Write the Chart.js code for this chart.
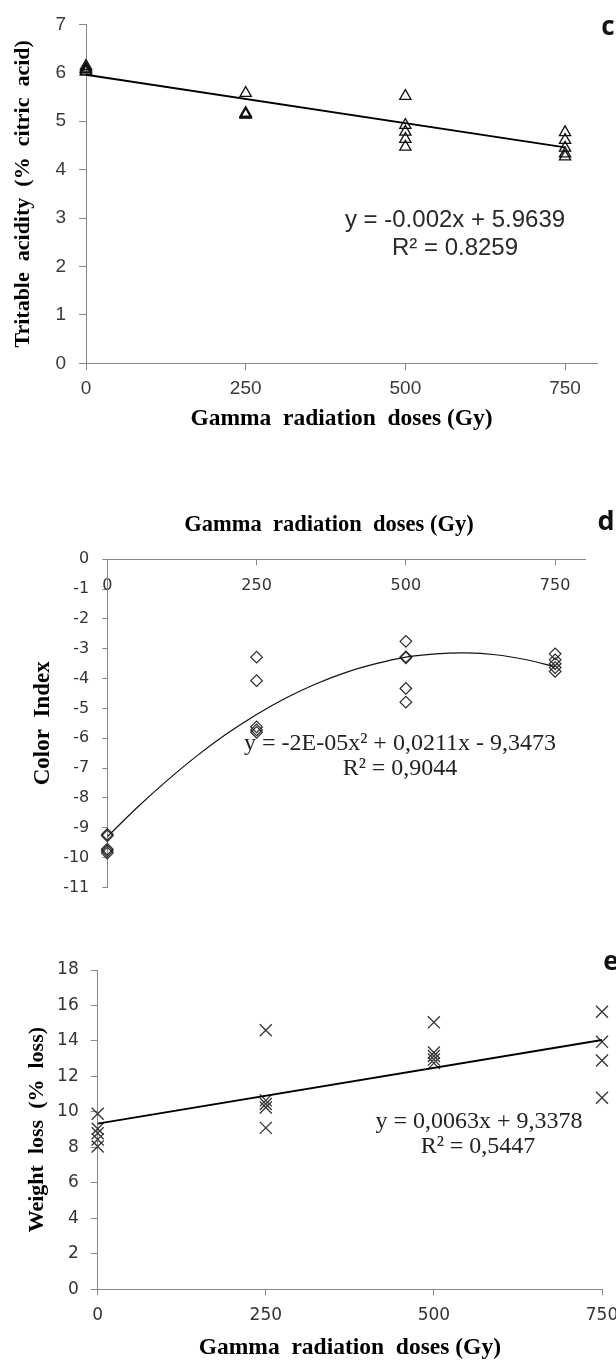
<!DOCTYPE html>
<html>
<head>
<meta charset="utf-8">
<script src="https://cdn.jsdelivr.net/npm/chart.js@4.4.1/dist/chart.umd.min.js"></script>
<style>
html,body{margin:0;padding:0;background:#fff;width:616px;height:1362px;overflow:hidden;position:relative}
canvas{position:absolute;left:0}
</style>
</head>
<body>
<canvas id="panelC" width="616" height="440" style="top:0px"></canvas>
<canvas id="panelD" width="616" height="430" style="top:480px"></canvas>
<canvas id="panelE" width="640" height="432" style="top:930px"></canvas>
<script>
// ---------- tick labels ----------
const doseTicks = [0, 250, 500, 750];
const acidityTicks = [0, 1, 2, 3, 4, 5, 6, 7];
const colorTicks = [0, -1, -2, -3, -4, -5, -6, -7, -8, -9, -10, -11];
const weightTicks = [0, 2, 4, 6, 8, 10, 12, 14, 16, 18];

// ---------- panel c : titratable acidity ----------
const acidityDose  = [0, 0, 0, 0, 0, 250, 250, 250, 250, 250, 500, 500, 500, 500, 500, 750, 750, 750, 750, 750];
const acidityValue = [6.14, 6.10, 6.07, 6.04, 6.02, 5.58, 5.17, 5.15, 5.14, 5.13, 5.52, 4.92, 4.78, 4.63, 4.47, 4.77, 4.61, 4.45, 4.33, 4.27];
const acidityTrendDose  = [0, 750];
const acidityTrendValue = [5.96, 4.46];

// ---------- panel d : color index ----------
const colorDose  = [0, 0, 0, 0, 0, 250, 250, 250, 250, 250, 500, 500, 500, 500, 500, 750, 750, 750, 750, 750];
const colorValue = [-9.22, -9.27, -9.72, -9.78, -9.85, -3.28, -4.07, -5.62, -5.72, -5.80, -2.75, -3.27, -3.30, -4.33, -4.79, -3.17, -3.37, -3.50, -3.63, -3.76];
const colorTrendDose  = [0, 50, 100, 150, 200, 250, 300, 350, 400, 450, 500, 550, 600, 650, 700, 750];
const colorTrendValue = [-9.30, -8.32, -7.42, -6.59, -5.85, -5.20, -4.64, -4.17, -3.79, -3.50, -3.28, -3.17, -3.14, -3.20, -3.36, -3.60];

// ---------- panel e : weight loss ----------
const weightDose  = [0, 0, 0, 0, 0, 250, 250, 250, 250, 250, 500, 500, 500, 500, 500, 750, 750, 750, 750];
const weightValue = [9.90, 9.05, 8.80, 8.45, 8.05, 14.60, 10.65, 10.45, 10.25, 9.10, 15.05, 13.35, 13.15, 12.95, 12.75, 15.65, 13.95, 12.90, 10.80];
const weightTrendDose  = [0, 750];
const weightTrendValue = [9.34, 14.06];

// ---------- helpers ----------
const pairs = (xs, ys) => xs.map((x, i) => ({x: x, y: ys[i]}));
const axisGray = '#878787';
const SANS = "'Liberation Sans', Arial, sans-serif";
const SERIF = "'Liberation Serif', 'Times New Roman', serif";
const VERD = "'DejaVu Sans', Verdana, sans-serif";
const LETTER = "'Open Sans', 'Liberation Sans', sans-serif";

const textPlugin = {
  id: 'panelText',
  afterDraw(chart, args, opts) {
    const ctx = chart.ctx;
    (opts.items || []).forEach(it => {
      ctx.save();
      ctx.font = it.font;
      ctx.fillStyle = it.color || '#000';
      ctx.textAlign = 'center';
      ctx.textBaseline = 'middle';
      ctx.fillText(it.text, it.x, it.y);
      ctx.restore();
    });
  }
};

function fixedTicks(list) {
  return s => { s.ticks = list.map(v => ({value: v})); };
}

function axis(o) {
  return {
    type: 'linear',
    position: o.position,
    min: o.min,
    max: o.max,
    afterBuildTicks: fixedTicks(o.ticks),
    afterFit: o.afterFit,
    grid: {drawOnChartArea: false, drawTicks: true, tickLength: o.tickLength, color: axisGray, lineWidth: 1},
    border: {display: true, color: axisGray, width: 1},
    ticks: {
      autoSkip: false, maxRotation: 0, minRotation: 0,
      mirror: !!o.mirror,
      padding: o.tickPad,
      color: o.tickColor || '#333',
      font: {family: o.tickFamily, size: o.tickSize}
    },
    title: o.title ? {
      display: true, text: o.title, color: '#000',
      font: {family: SERIF, size: o.titleSize, weight: 'bold'},
      padding: o.titlePad
    } : {display: false}
  };
}

function baseOptions(padding, scales, items) {
  return {
    responsive: false,
    animation: false,
    events: [],
    layout: {padding: padding},
    plugins: {legend: {display: false}, tooltip: {enabled: false}, panelText: {items: items}},
    scales: scales
  };
}

// ---------- chart c ----------
new Chart(document.getElementById('panelC'), {
  type: 'scatter',
  data: {
    datasets: [
      {data: pairs(acidityTrendDose, acidityTrendValue), showLine: true, borderColor: '#000', borderWidth: 2, pointRadius: 0, clip: false},
      {data: pairs(acidityDose, acidityValue), pointStyle: 'triangle', pointRadius: 6.5, pointBorderWidth: 1.3,
       pointBorderColor: '#111', pointBackgroundColor: 'rgba(255,255,255,0)', showLine: false, clip: false}
    ]
  },
  options: baseOptions({left: 0, top: 17.3, right: 19, bottom: 6.7}, {
    x: axis({position: 'bottom', min: 0, max: 800, ticks: doseTicks, afterFit: s => { s.height = 70; },
      tickLength: 7, tickPad: 7, tickFamily: SANS, tickSize: 19, tickColor: '#3a3a3a',
      title: 'Gamma  radiation  doses (Gy)', titleSize: 23.5, titlePad: {top: 0, bottom: 0}}),
    y: axis({position: 'left', min: 0, max: 7, ticks: acidityTicks, afterFit: s => { s.width = 86; },
      tickLength: 7, tickPad: 13, tickFamily: SANS, tickSize: 19, tickColor: '#3a3a3a',
      title: 'Tritable  acidity  (%  citric  acid)', titleSize: 22, titlePad: {top: 10.4, bottom: 0}})
  }, [
    {text: 'c', x: 608, y: 28, font: "bold 26px " + LETTER, color: '#111'},
    {text: 'y = -0.002x + 5.9639', x: 455, y: 220, font: "24px " + SANS, color: '#2a2a2a'},
    {text: 'R\u00b2 = 0.8259', x: 455, y: 248, font: "24px " + SANS, color: '#2a2a2a'}
  ]),
  plugins: [textPlugin]
});

// ---------- chart d ----------
new Chart(document.getElementById('panelD'), {
  type: 'scatter',
  data: {
    datasets: [
      {data: pairs(colorTrendDose, colorTrendValue), showLine: true, borderColor: '#111', borderWidth: 1.2, tension: 0.3, pointRadius: 0, clip: false},
      {data: pairs(colorDose, colorValue), pointStyle: 'rectRot', pointRadius: 5.8, pointBorderWidth: 1.2,
       pointBorderColor: '#2a2a2a', pointBackgroundColor: 'rgba(255,255,255,0)', showLine: false, clip: false}
    ]
  },
  options: baseOptions({left: 0, top: 0, right: 31, bottom: 13.3}, {
    x: axis({position: 'top', min: 0, max: 800, ticks: doseTicks, afterFit: s => { s.height = 79.3; },
      tickLength: -6, tickPad: 17.1, mirror: true, tickFamily: VERD, tickSize: 16, tickColor: '#333'}),
    y: axis({position: 'left', min: -11, max: 0, ticks: colorTicks, afterFit: s => { s.width = 107.3; },
      tickLength: 5, tickPad: 13, tickFamily: VERD, tickSize: 16, tickColor: '#333',
      title: 'Color  Index', titleSize: 23, titlePad: {top: 29.2, bottom: 0}})
  }, [
    {text: 'Gamma  radiation  doses (Gy)', x: 329, y: 45, font: "bold 22.5px " + SERIF, color: '#000'},
    {text: 'd', x: 606, y: 42, font: "bold 27px " + LETTER, color: '#111'},
    {text: 'y = -2E-05x\u00b2 + 0,0211x - 9,3473', x: 400, y: 263.5, font: "24px " + SERIF, color: '#222'},
    {text: 'R\u00b2 = 0,9044', x: 400, y: 288.5, font: "24px " + SERIF, color: '#222'}
  ]),
  plugins: [textPlugin]
});

// ---------- chart e ----------
new Chart(document.getElementById('panelE'), {
  type: 'scatter',
  data: {
    datasets: [
      {data: pairs(weightTrendDose, weightTrendValue), showLine: true, borderColor: '#000', borderWidth: 2, pointRadius: 0, clip: false},
      {data: pairs(weightDose, weightValue), pointStyle: 'crossRot', pointRadius: 8.5, pointBorderWidth: 1.3,
       pointBorderColor: '#333', pointBackgroundColor: 'rgba(255,255,255,0)', showLine: false, clip: false}
    ]
  },
  options: baseOptions({left: 0, top: 40, right: 38, bottom: 0}, {
    x: axis({position: 'bottom', min: 0, max: 750, ticks: doseTicks, afterFit: s => { s.height = 72.7; },
      tickLength: 6, tickPad: 10.2, tickFamily: VERD, tickSize: 17, tickColor: '#333',
      title: 'Gamma  radiation  doses (Gy)', titleSize: 23.5, titlePad: {top: 0, bottom: 0}}),
    y: axis({position: 'left', min: 0, max: 18, ticks: weightTicks, afterFit: s => { s.width = 97.7; },
      tickLength: 7, tickPad: 12, tickFamily: VERD, tickSize: 17, tickColor: '#333',
      title: 'Weight  loss  (%  loss)', titleSize: 22, titlePad: {top: 23.8, bottom: 0}})
  }, [
    {text: 'e', x: 611, y: 33, font: "bold 26px " + LETTER, color: '#111'},
    {text: 'y = 0,0063x + 9,3378', x: 479, y: 191.7, font: "24px " + SERIF, color: '#222'},
    {text: 'R\u00b2 = 0,5447', x: 478, y: 216.7, font: "24px " + SERIF, color: '#222'}
  ]),
  plugins: [textPlugin]
});
</script>
</body>
</html>
